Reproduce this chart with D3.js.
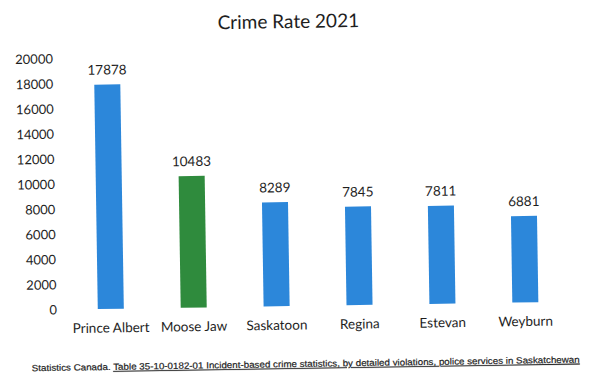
<!DOCTYPE html>
<html>
<head>
<meta charset="utf-8">
<script src="https://cdn.jsdelivr.net/npm/d3@7"></script>
<style>
  html, body { margin: 0; padding: 0; background: #fff; }
  text { fill: #1e1e1e; }
</style>
</head>
<body>
<div id="chart"></div>
<script>
// chart data
var cities = ["Prince Albert", "Moose Jaw", "Saskatoon", "Regina", "Estevan", "Weyburn"];
var rates = [17878, 10483, 8289, 7845, 7811, 6881];
var barColors = ["#2c87da", "#2f8b3d", "#2c87da", "#2c87da", "#2c87da", "#2c87da"];
var yTicks = [0, 2000, 4000, 6000, 8000, 10000, 12000, 14000, 16000, 18000, 20000];

var width = 591, height = 387;

var svg = d3.select('#chart')
  .append('svg')
  .attr('width', width)
  .attr('height', height);

// the scan is a little crooked, so tilt everything a bit
var g = svg.append('g')
  .attr('transform', 'rotate(-0.9, 295, 190)');

var x = d3.scaleBand()
  .domain(cities)
  .range([67.5, 565])
  .paddingInner(0.686)
  .paddingOuter(0.343);

var y = d3.scaleLinear()
  .domain([0, 20000])
  .range([306, 55]);

// title
g.append('text')
  .attr('x', 291)
  .attr('y', 28)
  .attr('text-anchor', 'middle')
  .style('font-family', 'Lato, "Open Sans", sans-serif')
  .style('font-size', '19px')
  .text('Crime Rate 2021');

// y axis, labels only
var yAxis = g.append('g')
  .attr('transform', 'translate(58,0)')
  .call(d3.axisLeft(y).tickValues(yTicks).tickSize(0).tickPadding(3).tickFormat(d3.format('d')));
yAxis.select('.domain').remove();
yAxis.selectAll('text')
  .style('font-family', 'Lato, "Open Sans", sans-serif')
  .style('font-size', '13px')
  .attr('fill', '#1e1e1e');

// bars
g.selectAll('rect.bar')
  .data(rates)
  .enter().append('rect')
  .attr('class', 'bar')
  .attr('x', function(d, i) { return x(cities[i]); })
  .attr('width', x.bandwidth())
  .attr('y', function(d) { return y(d); })
  .attr('height', function(d) { return y(0) - y(d); })
  .attr('fill', function(d, i) { return barColors[i]; });

// value labels
g.selectAll('text.value')
  .data(rates)
  .enter().append('text')
  .attr('class', 'value')
  .attr('x', function(d, i) { return x(cities[i]) + x.bandwidth() / 2; })
  .attr('y', function(d) { return y(d) - 10; })
  .attr('text-anchor', 'middle')
  .style('font-family', 'Lato, "Open Sans", sans-serif')
  .style('font-size', '13.5px')
  .text(function(d) { return d; });

// category labels
var xAxis = g.append('g')
  .attr('transform', 'translate(0,' + y(0) + ')')
  .call(d3.axisBottom(x).tickSize(0).tickPadding(14));
xAxis.select('.domain').remove();
xAxis.selectAll('text')
  .style('font-family', 'Lato, "Open Sans", sans-serif')
  .style('font-size', '13.5px')
  .attr('fill', '#1e1e1e');

// source line
var src = g.append('text')
  .attr('x', 29)
  .attr('y', 367)
  .style('font-family', '"Liberation Sans", Arial, sans-serif')
  .style('font-size', '9px')
  .style('stroke', '#1e1e1e')
  .style('stroke-width', '0.2px')
  .attr('textLength', 548)
  .attr('lengthAdjust', 'spacingAndGlyphs');
src.append('tspan').text('Statistics Canada.  ');
src.append('tspan')
  .style('text-decoration', 'underline')
  .text('Table  35-10-0182-01   Incident-based crime statistics, by detailed violations, police services in Saskatchewan');
</script>
</body>
</html>
